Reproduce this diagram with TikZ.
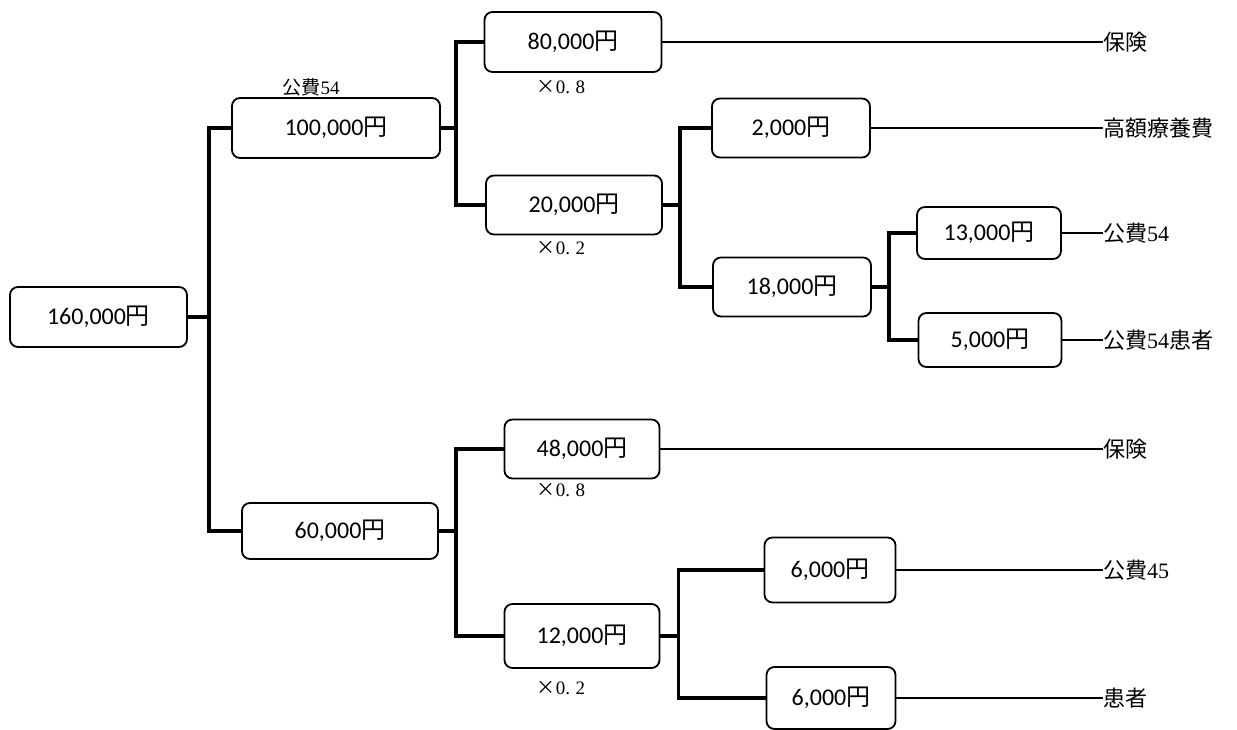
\documentclass[tikz,border=0pt]{standalone}
\usepackage{fontspec}
\usetikzlibrary{calc}
\newfontfamily\jp{Noto Sans CJK JP}
\newfontfamily\numfont{Carlito}
\newfontfamily\serifnum{Liberation Serif}
\newcommand{\amt}[1]{{\numfont #1}{\jp 円}}
\begin{document}
\begin{tikzpicture}[x=1pt,y=-1pt,
  box/.style={draw, line width=1.8pt, rounded corners=8pt, inner sep=0pt,
    font=\fontsize{24}{26}\selectfont},
  conn/.style={line width=3.4pt, line cap=rect},
  thin/.style={line width=1.4pt},
  lab/.style={anchor=west, inner sep=0pt, font=\fontsize{22}{24}\selectfont},
  mult/.style={inner sep=0pt, font=\fontsize{19}{22}\selectfont}]
\useasboundingbox (0,0) rectangle (1237,730);
% boxes
\node[box, minimum width=177pt, minimum height=60pt] (n160) at (98.5,317) {\amt{160,000}};
\node[box, minimum width=208pt, minimum height=60pt] (n100) at (336,128) {\amt{100,000}};
\node[box, minimum width=177pt, minimum height=60pt] (n80) at (573,42) {\amt{80,000}};
\node[box, minimum width=176pt, minimum height=59pt] (n20) at (574,205) {\amt{20,000}};
\node[box, minimum width=158pt, minimum height=59pt] (n2) at (791,128) {\amt{2,000}};
\node[box, minimum width=158pt, minimum height=59pt] (n18) at (792,287) {\amt{18,000}};
\node[box, minimum width=144pt, minimum height=52pt] (n13) at (989,233) {\amt{13,000}};
\node[box, minimum width=143pt, minimum height=54pt] (n5) at (990,340) {\amt{5,000}};
\node[box, minimum width=196pt, minimum height=56pt] (n60) at (340,531) {\amt{60,000}};
\node[box, minimum width=155pt, minimum height=59pt] (n48) at (582,449) {\amt{48,000}};
\node[box, minimum width=155pt, minimum height=64pt] (n12) at (582,636) {\amt{12,000}};
\node[box, minimum width=131pt, minimum height=65pt] (n6a) at (830,570) {\amt{6,000}};
\node[box, minimum width=129pt, minimum height=62pt] (n6b) at (831,698) {\amt{6,000}};
% small labels
\node[mult] (k54) at (311,87) {{\jp 公費}{\serifnum 54}};
\node[mult] (m1) at (561,87) {{\jp ×}{\serifnum 0.\;8}};
\node[mult] (m2) at (561,248) {{\jp ×}{\serifnum 0.\;2}};
\node[mult] (m3) at (561,490) {{\jp ×}{\serifnum 0.\;8}};
\node[mult] (m4) at (561,688) {{\jp ×}{\serifnum 0.\;2}};
% right labels
\node[lab] (r1) at (1103,42) {\jp 保険};
\node[lab] (r2) at (1103,128) {\jp 高額療養費};
\node[lab] (r3) at (1103,233) {{\jp 公費}{\serifnum 54}};
\node[lab] (r4) at (1103,340) {{\jp 公費}{\serifnum 54}{\jp 患者}};
\node[lab] (r5) at (1103,449) {\jp 保険};
\node[lab] (r6) at (1103,570) {{\jp 公費}{\serifnum 45}};
\node[lab] (r7) at (1103,698) {\jp 患者};
% tree connectors
\coordinate (j1) at ($(n160.east)+(21,0)$);
\draw[conn] (n160.east) -- (j1);
\draw[conn] (n100.west) -| (j1) |- (n60.west);
\coordinate (j2) at ($(n100.east)+(15,0)$);
\draw[conn] (n100.east) -- (j2);
\draw[conn] (n80.west) -| (j2) |- (n20.west);
\coordinate (j3) at ($(n20.east)+(17,0)$);
\draw[conn] (n20.east) -- (j3);
\draw[conn] (n2.west) -| (j3) |- (n18.west);
\coordinate (j4) at ($(n18.east)+(17,0)$);
\draw[conn] (n18.east) -- (j4);
\draw[conn] (n13.west) -| (j4) |- (n5.west);
\coordinate (j5) at ($(n60.east)+(17,0)$);
\draw[conn] (n60.east) -- (j5);
\draw[conn] (n48.west) -| (j5) |- (n12.west);
\coordinate (j6) at ($(n12.east)+(18,0)$);
\draw[conn] (n12.east) -- (j6);
\draw[conn] (n6a.west) -| (j6) |- (n6b.west);
% leaf lines
\draw[thin] (n80.east) -- (r1.west);
\draw[thin] (n2.east) -- (r2.west);
\draw[thin] (n13.east) -- (r3.west);
\draw[thin] (n5.east) -- (r4.west);
\draw[thin] (n48.east) -- (r5.west);
\draw[thin] (n6a.east) -- (r6.west);
\draw[thin] (n6b.east) -- (r7.west);
\end{tikzpicture}
\end{document}
